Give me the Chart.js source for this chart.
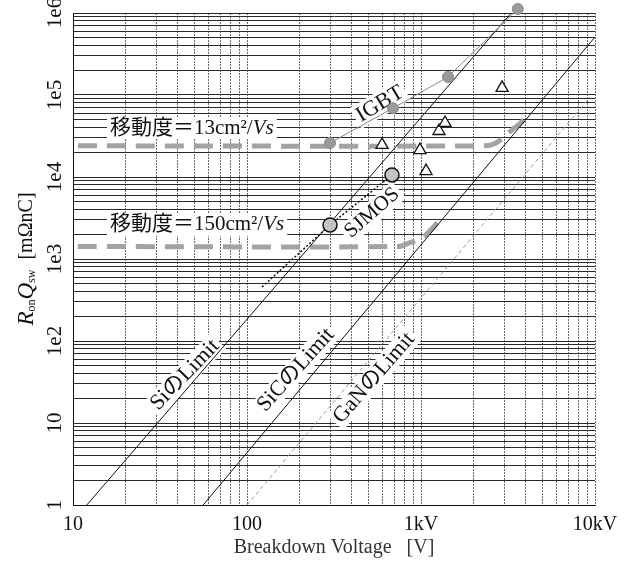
<!DOCTYPE html>
<html>
<head>
<meta charset="utf-8">
<script src="https://cdn.jsdelivr.net/npm/chart.js@4.4.1/dist/chart.umd.min.js"></script>
<style>
html,body{margin:0;padding:0;background:#fff}
#wrap{width:639px;height:569px;position:relative}
</style>
</head>
<body>
<div id="wrap"><canvas id="mainChart"></canvas></div>
<script>

// axis ticks
const xTickValues=[10,100,1000,10000]
const xTickLabels=['10','100','1kV','10kV']
const yTickValues=[1,10,100,1000,10000,100000,1000000]
const yTickLabels=['1','10','1e2','1e3','1e4','1e5','1e6']

// material limit lines  [V, RonQsw]
const siLimit=[[12,1],[3300,1000000]]
const sicLimit=[[56,1],[10000,510000]]
const ganLimit=[[100,1],[9400,95000]]

// mobility limited lines
const mob13=[[10,24000],[2300,24000],[2700,26000],[3100,33000],[4200,56000]]
const mob150=[[10,1420],[740,1420],[850,1560],[1030,1850],[1290,3000]]

// devices
const igbt=[[300,26000],[690,69000],[1430,166000],[3600,1120000]]
const others=[[597,24600],[986,21300],[1268,36400],[1374,45600],[1069,11800],[2924,122000]]
const sjmos=[[300,2600],[681,10600]]
const sjmosTrend=[[122,456],[300,2600],[681,10600]]

const SERIF='"Liberation Serif","Noto Sans CJK JP",serif'

function pts(arr){
return arr.map(p=>({x:p[0],y:p[1]}))
}

function logTicks(min,max){
const t=[]
for(let d=min;d<max;d*=10){
for(let k=1;k<10;k++){t.push({value:d*k})}
}
t.push({value:max})
return t
}

const f=(size,it)=>(it?'italic ':'')+size+'px '+SERIF

// text notes placed in data coordinates
const notes=[
{x:16.3,y:39600,angle:0,align:'left',h:22,parts:[['移動度＝13cm²/',f(21)],['Vs',f(21,true)]]},
{x:16.3,y:2600,angle:0,align:'left',h:22,parts:[['移動度＝150cm²/',f(21)],['Vs',f(21,true)]]},
{x:581,y:77700,angle:-31,h:24,parts:[['IGBT',f(22)]]},
{x:523,y:3640,angle:-41,h:22,parts:[['SJMOS',f(21)]]},
{x:44,y:38.5,angle:-46,h:22,parts:[['SiのLimit',f(22)]]},
{x:191,y:44.3,angle:-48,h:22,parts:[['SiCのLimit',f(22)]]},
{x:537,y:35.4,angle:-49,h:22,parts:[['GaNのLimit',f(22)]]}
]

function drawParts(ctx,parts,align,h,box){
let w=0
parts.forEach(p=>{ctx.font=p[1];w+=ctx.measureText(p[0]).width})
const start=align==='left'?0:-w/2
if(box){
ctx.fillStyle='#fff'
ctx.fillRect(start-3,-h/2,w+6,h)
}
ctx.fillStyle='#111'
ctx.textBaseline='middle'
ctx.textAlign='left'
let cx=start
parts.forEach(p=>{
ctx.font=p[1]
ctx.fillText(p[0],cx,p[2]||0)
cx+=ctx.measureText(p[0]).width
})
}

const textPlugin={
id:'texts',
beforeDatasetsDraw(chart){
const {ctx,scales:{x,y}}=chart
notes.forEach(n=>{
ctx.save()
ctx.translate(x.getPixelForValue(n.x),y.getPixelForValue(n.y))
ctx.rotate(n.angle*Math.PI/180)
drawParts(ctx,n.parts,n.align,n.h,true)
ctx.restore()
})
},
afterDraw(chart){
const {ctx,chartArea}=chart
ctx.save()
ctx.translate(chartArea.left-46,(chartArea.top+chartArea.bottom)/2)
ctx.rotate(-Math.PI/2)
drawParts(ctx,[
['R',f(23,true)],['on',f(12),5],
['Q',f(23,true)],['sw',f(12),5],
['  [mΩnC]',f(20)]
],'center',0,false)
ctx.restore()
}
}

const ctx=document.getElementById('mainChart')

new Chart(ctx,{
type:'scatter',
data:{
datasets:[
{
data:pts(igbt),showLine:true,clip:false,
borderColor:'#8a8a8a',borderWidth:1,
pointRadius:5.5,pointBackgroundColor:'#9a9a9a',pointBorderColor:'#888'
},
{
data:pts(others),showLine:false,
pointStyle:'triangle',pointRadius:7,
pointBackgroundColor:'#fff',pointBorderColor:'#111',pointBorderWidth:1.3
},
{
data:pts(sjmos),showLine:false,
pointRadius:7,pointBackgroundColor:'#c4c4c4',pointBorderColor:'#111',pointBorderWidth:1.5
},
{
data:pts(sjmosTrend),showLine:true,pointRadius:0,
borderColor:'#111',borderWidth:1.5,borderDash:[2,2]
},
{
data:pts(siLimit),showLine:true,pointRadius:0,
borderColor:'#111',borderWidth:1
},
{
data:pts(sicLimit),showLine:true,pointRadius:0,
borderColor:'#111',borderWidth:1
},
{
data:pts(ganLimit),showLine:true,pointRadius:0,
borderColor:'#9a9a9a',borderWidth:1,borderDash:[4,3]
},
{
data:pts(mob13),showLine:true,pointRadius:0,tension:0.3,
borderColor:'#a3a3a3',borderWidth:5,borderDash:[19,10],borderDashOffset:-5,borderCapStyle:'butt'
},
{
data:pts(mob150),showLine:true,pointRadius:0,tension:0.3,
borderColor:'#a3a3a3',borderWidth:5,borderDash:[19,10],borderDashOffset:-5,borderCapStyle:'butt'
}
]
},
options:{
responsive:true,
maintainAspectRatio:false,
animation:false,
layout:{padding:{top:13,right:44,left:0,bottom:0}},
plugins:{legend:{display:false},tooltip:{enabled:false}},
scales:{
x:{
type:'logarithmic',
min:10,max:10000,
afterBuildTicks:s=>{s.ticks=logTicks(10,10000)},
afterFit:s=>{s.height=64;s.paddingLeft=0;s.paddingRight=0},
grid:{color:'#6a6a6a',lineWidth:1,drawTicks:false},
border:{color:'#111',width:1,dash:[2,1]},
ticks:{
autoSkip:false,maxRotation:0,minRotation:0,padding:8,
color:'#111',font:{family:SERIF,size:20},
callback:v=>{const i=xTickValues.indexOf(v);return i<0?'':xTickLabels[i]}
},
title:{
display:true,text:'Breakdown Voltage   [V]',color:'#333',
font:{family:SERIF,size:20},padding:{top:0,bottom:9}
}
},
y:{
type:'logarithmic',
min:1,max:1000000,
afterBuildTicks:s=>{s.ticks=logTicks(1,1000000)},
afterFit:s=>{s.width=73;s.paddingTop=0;s.paddingBottom=0},
grid:{color:'#2a2a2a',lineWidth:1,drawTicks:false},
border:{color:'#111',width:1},
ticks:{
autoSkip:false,minRotation:90,maxRotation:90,crossAlign:'center',padding:2,
color:'#111',font:{family:SERIF,size:21},
callback:v=>{const i=yTickValues.indexOf(v);return i<0?'':yTickLabels[i]}
}
}
}
},
plugins:[textPlugin]
})

</script>
</body>
</html>
